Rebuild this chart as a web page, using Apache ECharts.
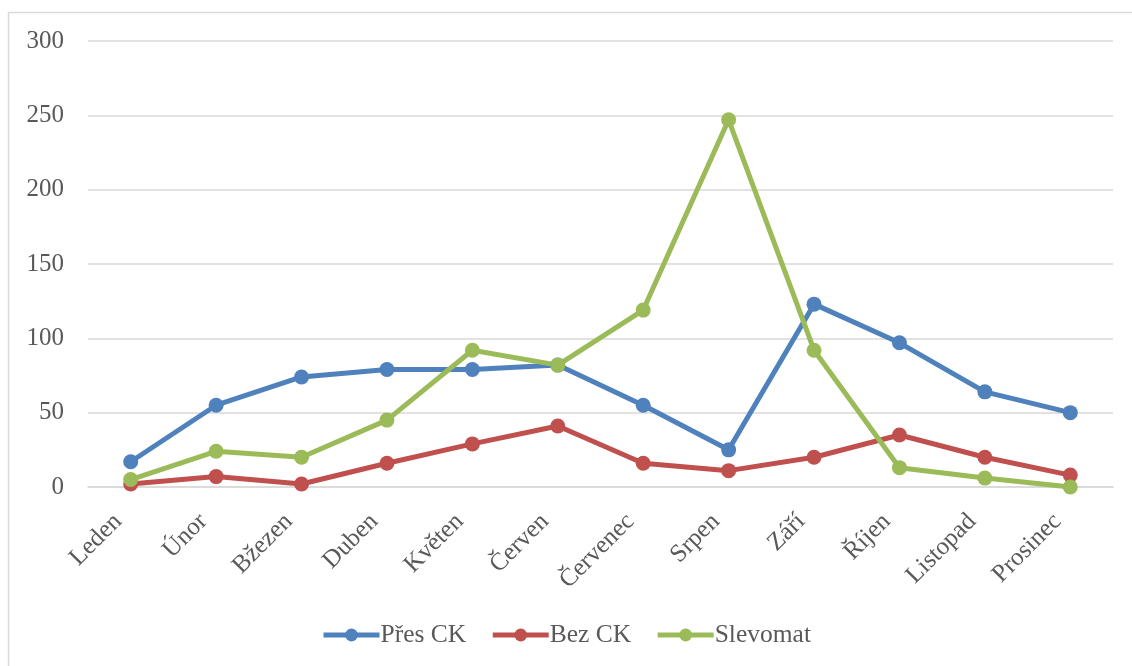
<!DOCTYPE html>
<html>
<head>
<meta charset="utf-8">
<script src="https://cdn.jsdelivr.net/npm/echarts@6/dist/echarts.min.js"></script>
<style>
  html, body { margin: 0; padding: 0; background: #fff; }
  #chart { width: 1132px; height: 666px; }
</style>
</head>
<body>
<div id="chart"></div>
<script>
// Months (Czech)
const months = ['Leden', 'Únor', 'Bžezen', 'Duben', 'Květen', 'Červen', 'Červenec', 'Srpen', 'Září', 'Říjen', 'Listopad', 'Prosinec'];

// Monthly counts per channel
const presCK   = [17, 55, 74, 79, 79, 82, 55, 25, 123, 97, 64, 50];
const bezCK    = [2, 7, 2, 16, 29, 41, 16, 11, 20, 35, 20, 8];
const slevomat = [5, 24, 20, 45, 92, 82, 119, 247, 92, 13, 6, 0];

const seriesNames = ['Přes CK', 'Bez CK', 'Slevomat'];
const seriesColors = ['#4f81bd', '#c0504d', '#9bbb59'];
const seriesData = [presCK, bezCK, slevomat];

const font = '"Liberation Serif", "Times New Roman", serif';

const chart = echarts.init(document.getElementById('chart'), null, { renderer: 'canvas' });

chart.setOption({
  backgroundColor: '#ffffff',
  animation: false,
  textStyle: { fontFamily: font },
  graphic: [{
    type: 'rect',
    silent: true,
    shape: { x: 8.5, y: 12.5, width: 1140, height: 700 },
    style: { fill: 'none', stroke: '#d9d9d9', lineWidth: 1.5 }
  }],
  grid: { left: 88, right: 19, top: 41, bottom: 179, containLabel: false },
  legend: {
    bottom: 13,
    left: 'center',
    itemWidth: 56,
    itemHeight: 16,
    itemGap: 24,
    lineStyle: { width: 5 },
    textStyle: { fontFamily: font, fontSize: 25.5, color: '#595959', padding: [0, 0, 0, -4] },
    data: seriesNames
  },
  xAxis: {
    type: 'category',
    data: months,
    boundaryGap: true,
    axisLine: { show: true, lineStyle: { color: '#d9d9d9', width: 1.5 } },
    axisTick: { show: false },
    axisLabel: {
      rotate: 45,
      interval: 0,
      margin: 18,
      padding: [0, 18, 0, 0],
      fontFamily: font,
      fontSize: 25,
      color: '#595959'
    }
  },
  yAxis: {
    type: 'value',
    min: 0,
    max: 300,
    interval: 50,
    axisLine: { show: false },
    axisTick: { show: false },
    splitLine: { lineStyle: { color: '#d9d9d9', width: 1.5 } },
    axisLabel: {
      margin: 24,
      fontFamily: font,
      fontSize: 25,
      color: '#595959'
    }
  },
  series: seriesNames.map((name, i) => ({
    name: name,
    type: 'line',
    data: seriesData[i],
    color: seriesColors[i],
    symbol: 'circle',
    symbolSize: 15,
    lineStyle: { width: 5, color: seriesColors[i] },
    itemStyle: { color: seriesColors[i] }
  }))
});
</script>
</body>
</html>
